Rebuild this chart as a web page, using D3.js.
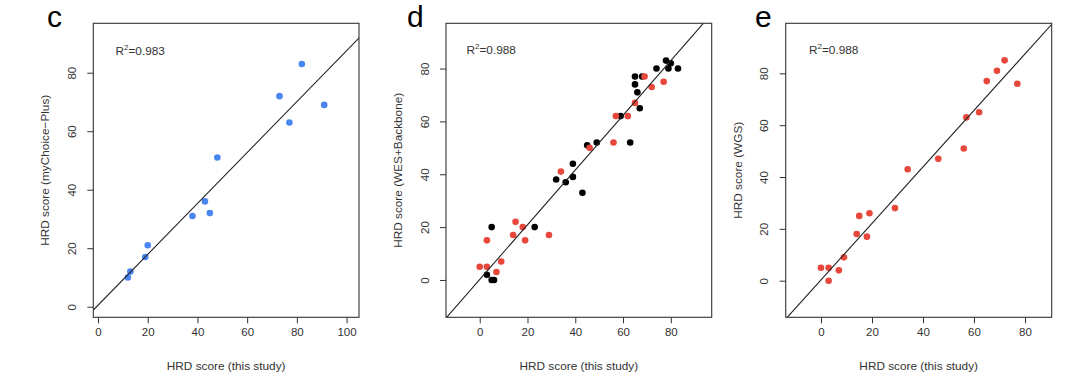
<!DOCTYPE html>
<html>
<head>
<meta charset="utf-8">
<script src="https://cdn.jsdelivr.net/npm/d3@7"></script>
<style>
  html, body { margin: 0; padding: 0; background: #fff; }
  svg { display: block; font-family: "Liberation Sans", Arial, Helvetica, sans-serif; }
</style>
</head>
<body>
<svg id="chart" width="1080" height="383"></svg>
<script>
// ---------------- data ----------------
const panelLetters = ["c", "d", "e"];
const r2Labels = ["0.983", "0.988", "0.988"];
const xTitles = ["HRD score (this study)", "HRD score (this study)", "HRD score (this study)"];
const yTitles = ["HRD score (myChoice\u2212Plus)", "HRD score (WES+Backbone)", "HRD score (WGS)"];

// panel c: this study vs myChoice-Plus (blue)
const cX = [12, 13, 19, 20, 38, 43, 45, 48, 73, 77, 82, 91];
const cY = [10, 12, 17, 21, 31, 36, 32, 51, 72, 63, 83, 69];

// panel d: this study vs WES+Backbone (black and red series)
const dBlackX = [3, 5, 6, 5, 23, 32, 36, 39, 39, 43, 45, 49, 59, 63, 65, 65, 66, 67, 68, 74, 78, 79, 80, 83];
const dBlackY = [2, 0, 0, 20, 20, 38, 37, 39, 44, 33, 51, 52, 62, 52, 77, 74, 71, 65, 77, 80, 83, 80, 82, 80];
const dRedX = [0, 3, 3, 7, 9, 14, 15, 18, 19, 29, 34, 46, 56, 57, 62, 65, 69, 72, 77];
const dRedY = [5, 5, 15, 3, 7, 17, 22, 20, 15, 17, 41, 50, 52, 62, 62, 67, 77, 73, 75];

// panel e: this study vs WGS (red)
const eX = [0, 3, 3, 7, 9, 14, 15, 18, 19, 29, 34, 46, 56, 57, 62, 65, 69, 72, 77];
const eY = [5, 5, 0, 4, 9, 18, 25, 17, 26, 28, 43, 47, 51, 63, 65, 77, 81, 85, 76];

// fitted lines [intercept, slope]
const cFit = [0.5, 0.87];
const dFit = [0.2, 1.035];
const eFit = [0.3, 1.09];

// tick values
const cXTicks = [0, 20, 40, 60, 80, 100];
const cYTicks = [0, 20, 40, 60, 80];
const dXTicks = [0, 20, 40, 60, 80];
const dYTicks = [0, 20, 40, 60, 80];
const eXTicks = [0, 20, 40, 60, 80];
const eYTicks = [0, 20, 40, 60, 80];

// ---------------- styles ----------------
const BLUE = "#4a86f2";
const RED = "#e8473b";
const BLACK = "#000000";
const INK = "#333333";

const panels = [
  { letter: panelLetters[0], r2: r2Labels[0], xTitle: xTitles[0], yTitle: yTitles[0],
    box: [93.3, 359, 23.3, 317.3], xDom: [-1.9, 105.0], yDom: [-3.62, 96.9],
    xTicks: cXTicks, yTicks: cYTicks, fit: cFit,
    series: [{ x: cX, y: cY, color: BLUE }],
    letterPos: [47, 27], r2Pos: [115.5, 54.5] },
  { letter: panelLetters[1], r2: r2Labels[1], xTitle: xTitles[1], yTitle: yTitles[1],
    box: [446, 711.7, 23.3, 317.3], xDom: [-14.12, 97.12], yDom: [-14.12, 97.12],
    xTicks: dXTicks, yTicks: dYTicks, fit: dFit,
    series: [{ x: dBlackX, y: dBlackY, color: BLACK }, { x: dRedX, y: dRedY, color: RED }],
    letterPos: [407, 27], r2Pos: [466.5, 53.5] },
  { letter: panelLetters[2], r2: r2Labels[2], xTitle: xTitles[2], yTitle: yTitles[2],
    box: [785.7, 1051.7, 23.3, 317.3], xDom: [-13.84, 90.47], yDom: [-14.12, 99.3],
    xTicks: eXTicks, yTicks: eYTicks, fit: eFit,
    series: [{ x: eX, y: eY, color: RED }],
    letterPos: [755, 27], r2Pos: [809, 53.5] }
];

const svg = d3.select("#chart");
svg.append("rect").attr("width", 1080).attr("height", 383).attr("fill", "#fff");

panels.forEach((p, i) => {
  const [x0, x1, y0, y1] = p.box;
  const xs = d3.scaleLinear().domain(p.xDom).range([x0, x1]);
  const ys = d3.scaleLinear().domain(p.yDom).range([y1, y0]);
  const g = svg.append("g");

  const clipId = "clip" + i;
  g.append("clipPath").attr("id", clipId)
    .append("rect").attr("x", x0).attr("y", y0).attr("width", x1 - x0).attr("height", y1 - y0);

  // points
  p.series.forEach(s => {
    g.append("g").selectAll("circle").data(s.x.map((v, k) => [v, s.y[k]])).join("circle")
      .attr("cx", d => xs(d[0])).attr("cy", d => ys(d[1]))
      .attr("r", 3.3).attr("fill", s.color);
  });

  // fit line
  const [a, b] = p.fit;
  const lx = [p.xDom[0] - 5, p.xDom[1] + 5];
  g.append("line")
    .attr("clip-path", `url(#${clipId})`)
    .attr("x1", xs(lx[0])).attr("y1", ys(a + b * lx[0]))
    .attr("x2", xs(lx[1])).attr("y2", ys(a + b * lx[1]))
    .attr("stroke", "#222").attr("stroke-width", 1.1);

  // axes
  const xAxis = d3.axisBottom(xs).tickValues(p.xTicks).tickSize(6).tickPadding(5).tickFormat(d3.format("d"));
  const gx = g.append("g").attr("transform", `translate(0,${y1})`).call(xAxis);
  gx.select(".domain").remove();
  gx.selectAll("line").attr("stroke", INK);
  gx.selectAll("text").attr("fill", INK).attr("font-size", 11.5)
    .attr("font-family", "Liberation Sans, Arial, sans-serif");

  const yAxis = d3.axisLeft(ys).tickValues(p.yTicks).tickSize(6).tickFormat(d3.format("d"));
  const gy = g.append("g").attr("transform", `translate(${x0},0)`).call(yAxis);
  gy.select(".domain").remove();
  gy.selectAll("line").attr("stroke", INK);
  gy.selectAll("text")
    .attr("fill", INK).attr("font-size", 11.5)
    .attr("font-family", "Liberation Sans, Arial, sans-serif")
    .attr("x", null).attr("dy", null)
    .attr("text-anchor", "middle")
    .attr("transform", d => `translate(-21.5,0) rotate(-90)`)
    .attr("dy", "0.35em");

  // box
  g.append("rect").attr("x", x0).attr("y", y0).attr("width", x1 - x0).attr("height", y1 - y0)
    .attr("fill", "none").attr("stroke", INK).attr("stroke-width", 1.1);

  // axis titles
  g.append("text").attr("x", (x0 + x1) / 2).attr("y", y1 + 49).attr("dy", "0.35em")
    .attr("text-anchor", "middle").attr("font-size", 11.8).attr("fill", INK).text(p.xTitle);
  g.append("text")
    .attr("transform", `translate(${x0 - 48},${(y0 + y1) / 2}) rotate(-90)`)
    .attr("dy", "0.35em").attr("text-anchor", "middle").attr("font-size", 11.8).attr("fill", INK)
    .text(p.yTitle);

  // R^2 label
  const t = g.append("text").attr("x", p.r2Pos[0]).attr("y", p.r2Pos[1])
    .attr("font-size", 11.8).attr("fill", INK);
  t.append("tspan").text("R");
  t.append("tspan").attr("font-size", 8).attr("dy", -4.8).text("2");
  t.append("tspan").attr("dy", 4.8).text("=" + p.r2);

  // panel letter
  g.append("text").attr("x", p.letterPos[0]).attr("y", p.letterPos[1])
    .attr("font-size", 30).attr("fill", "#000").text(p.letter);
});
</script>
</body>
</html>
